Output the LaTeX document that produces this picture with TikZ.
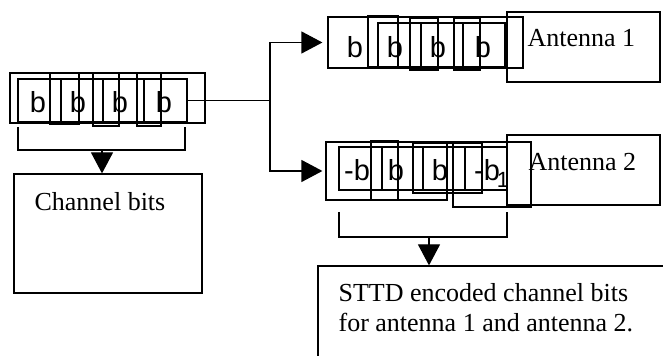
\documentclass[tikz,border=0pt]{standalone}
\usepackage{fontspec}
\setmainfont{Liberation Serif}
\newfontfamily\bitfont{Liberation Sans}
\usetikzlibrary{arrows.meta,fit}

\begin{document}
\begin{tikzpicture}[x=0.5pt,y=-0.5pt,
					line width=0.6pt,
					>={Triangle[length=10.5pt,width=11pt]},
					frame/.style={draw,inner sep=0pt,fit={#1}},
					bit/.style={font=\bitfont\fontsize{14.5}{16}\selectfont,inner sep=0pt},
					label text/.style={font=\fontsize{13}{15}\selectfont,inner sep=0pt,anchor=west}]

  \useasboundingbox (0,0) rectangle (663,356);

  % channel bits register
  \node[frame={(10,73) (205,123)}] (InReg) {};
  \node[frame={(18,79) (187,122)}] (InBits) {};
  \draw (18,79) rectangle (61,122)
        (50,73) rectangle (79,124)
        (93,73) rectangle (119,126)
        (137,73) rectangle (161,126)
        (103,79) -- (103,122)
        (144,79) -- (144,122);
  \foreach \x in {38,78,120,164}
    \node[bit] (in\x) at (\x,102) {b};

  \node[frame={(14,174) (202,293)}] (Chan) {};
  \node[label text] (ChanText) at (34,202) {Channel bits};

  \coordinate (InL) at (18,127);
  \coordinate (InR) at (185,127);
  \coordinate (InB) at (102,150);
  \draw (InL) -- ++(0,23) -| (InR);
  \draw[->] (InB) -- (InB |- Chan.north);

  % split to the antennas
  \coordinate (Split) at (270,0);
  \draw (InBits.east) -- (InBits.east -| Split);

  % antenna 1
  \node[frame={(328,17) (523,68)}] (Ant1Reg) {};
  \draw (368,16) rectangle (398,67)
        (378,23) rectangle (505,67)
        (410,18) rectangle (438,70)
        (454,18) rectangle (480,70)
        (421,23) -- (421,67)
        (463,23) -- (463,67);
  \foreach \x in {355,395,438,483}
    \node[bit] (a\x) at (\x,47) {b};
  \node[frame={(507,12) (660,82)}] (Ant1) {};
  \node[label text] (Ant1Text) at (527,38) {Antenna 1};

  % antenna 2
  \node[frame={(326,142) (447,200)}] (Ant2Reg) {};
  \draw (447,142) -- (531,142) -- (531,207) -- (453,207) -- (453,142)
        (339,147) rectangle (507,190)
        (371,141) rectangle (398,200)
        (413,143) rectangle (482,193)
        (382,147) -- (382,190)
        (423,147) -- (423,190)
        (465,147) -- (465,190);
  \node[bit] (c1) at (357,170) {-b};
  \node[bit] (c2) at (396,170) {b};
  \node[bit] (c3) at (440,170) {b};
  \node[bit] (c4) at (487,170) {-b};
  \node[bit,font=\bitfont\fontsize{11}{12}\selectfont] (c5) at (503,180) {1};
  \node[frame={(507,135) (660,205)}] (Ant2) {};
  \node[label text] (Ant2Text) at (528,162) {Antenna 2};

  \draw[->,shorten >=2.5pt] (InBits.east -| Split) |- (Ant1Reg.west);
  \draw[->,shorten >=1.5pt] (InBits.east -| Split) |- (Ant2Reg.west);

  % encoded bits
  \node[frame={(318,266) (690,390)}] (Enc) {};
  \node[label text,anchor=north west,align=left] (EncText) at (338,283)
    {STTD encoded channel bits\\for antenna 1 and antenna 2.};

  \coordinate (EncL) at (339,212);
  \coordinate (EncR) at (507,212);
  \coordinate (EncB) at (429,237);
  \draw (EncL) -- ++(0,25) -| (EncR);
  \draw[->] (EncB) -- (EncB |- Enc.north);
\end{tikzpicture}
\end{document}
